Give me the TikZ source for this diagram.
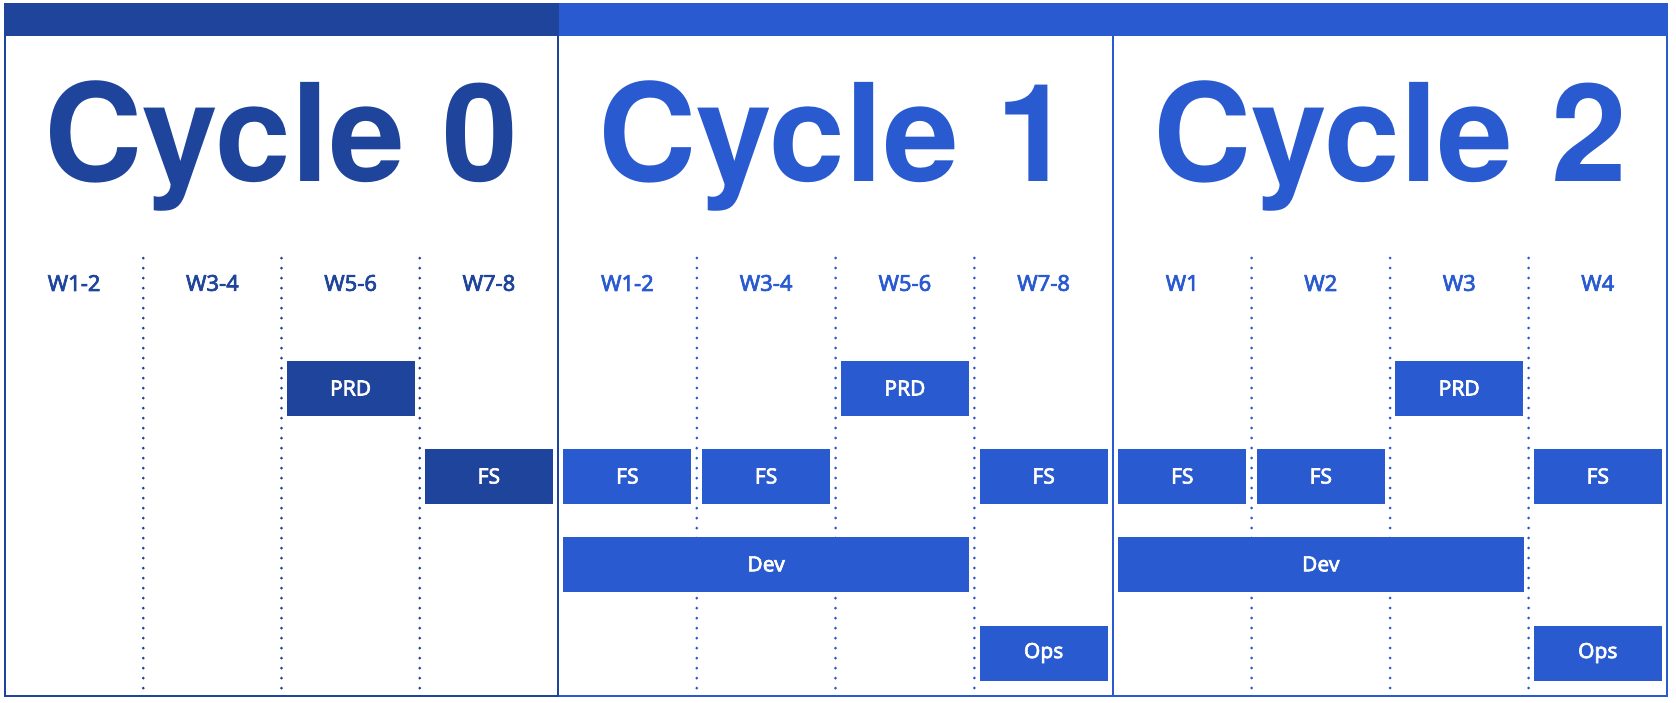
\documentclass[tikz,border=0pt]{standalone}
\usepackage{fontspec}
\setmainfont{Noto Sans}
\newfontfamily\titlefont{TeX Gyre Heros}
\newfontfamily\labelfont{Noto Sans}[FakeBold=3]
\definecolor{darkblue}{RGB}{31,68,155}
\definecolor{lightblue}{RGB}{42,90,207}

\begin{document}
\begin{tikzpicture}[x = 1pt, y = -1pt,
    title/.style = {anchor = base, inner sep = 0pt, font = \titlefont\fontsize{136}{136}\selectfont\bfseries},
    week/.style = {inner sep = 0pt, font = \labelfont\fontsize{22}{22}\selectfont},
    bar/.style = {inner sep = 0pt, minimum height = 55pt, minimum width = 128pt, text = white,
                  font = \labelfont\fontsize{21}{21}\selectfont},
    dots/.style = {line width = 3pt, line cap = round, dash pattern = on 0pt off 10pt}]
  \useasboundingbox (0, 0) rectangle (1676, 702);
  % cycle 2
  \fill [lightblue] (1113, 4) rectangle (1667, 36);
  \draw [lightblue, line width = 2pt] (1113, 4) rectangle (1667, 696);
  \draw [dots, lightblue] (1251.5, 258) -- (1251.5, 696);
  \draw [dots, lightblue] (1390, 258) -- (1390, 696);
  \draw [dots, lightblue] (1528.5, 258) -- (1528.5, 696);
  \node [title, text = lightblue] (title2) at (1390, 181) {Cycle 2};
  \node [week, text = lightblue] (c2w1) at (1182.25, 283) {W1};
  \node [week, text = lightblue] (c2w2) at (1320.75, 283) {W2};
  \node [week, text = lightblue] (c2w3) at (1459.25, 283) {W3};
  \node [week, text = lightblue] (c2w4) at (1597.75, 283) {W4};
  \node [bar, fill = lightblue] (c2prd) at (1459.25, 388) {PRD};
  \node [bar, fill = lightblue] (c2fs1) at (1182.25, 476) {FS};
  \node [bar, fill = lightblue] (c2fs2) at (1320.75, 476) {FS};
  \node [bar, fill = lightblue] (c2fs4) at (1597.75, 476) {FS};
  \node [bar, fill = lightblue, minimum width = 405.5pt] (c2dev) at (1320.75, 564) {Dev};
  \node [bar, fill = lightblue] (c2ops) at (1597.75, 653) {Ops};
  % cycle 1
  \fill [lightblue] (558, 4) rectangle (1113, 36);
  \draw [lightblue, line width = 2pt] (558, 4) rectangle (1113, 696);
  \draw [dots, lightblue] (696.75, 258) -- (696.75, 696);
  \draw [dots, lightblue] (835.5, 258) -- (835.5, 696);
  \draw [dots, lightblue] (974.25, 258) -- (974.25, 696);
  \node [title, text = lightblue] (title1) at (835.5, 181) {Cycle 1};
  \node [week, text = lightblue] (c1w1) at (627.4, 283) {W1-2};
  \node [week, text = lightblue] (c1w2) at (766.1, 283) {W3-4};
  \node [week, text = lightblue] (c1w3) at (904.9, 283) {W5-6};
  \node [week, text = lightblue] (c1w4) at (1043.6, 283) {W7-8};
  \node [bar, fill = lightblue] (c1prd) at (904.9, 388) {PRD};
  \node [bar, fill = lightblue] (c1fs1) at (627.4, 476) {FS};
  \node [bar, fill = lightblue] (c1fs2) at (766.1, 476) {FS};
  \node [bar, fill = lightblue] (c1fs4) at (1043.6, 476) {FS};
  \node [bar, fill = lightblue, minimum width = 406pt] (c1dev) at (766.1, 564) {Dev};
  \node [bar, fill = lightblue] (c1ops) at (1043.6, 653) {Ops};
  % cycle 0
  \fill [darkblue] (5, 4) rectangle (558, 36);
  \draw [darkblue, line width = 2pt] (5, 4) rectangle (558, 696);
  \draw [dots, darkblue] (143.25, 258) -- (143.25, 696);
  \draw [dots, darkblue] (281.5, 258) -- (281.5, 696);
  \draw [dots, darkblue] (419.75, 258) -- (419.75, 696);
  \node [title, text = darkblue] (title0) at (281.5, 181) {Cycle 0};
  \node [week, text = darkblue] (c0w1) at (74.1, 283) {W1-2};
  \node [week, text = darkblue] (c0w2) at (212.4, 283) {W3-4};
  \node [week, text = darkblue] (c0w3) at (350.6, 283) {W5-6};
  \node [week, text = darkblue] (c0w4) at (488.9, 283) {W7-8};
  \node [bar, fill = darkblue] (c0prd) at (350.6, 388) {PRD};
  \node [bar, fill = darkblue] (c0fs4) at (488.9, 476) {FS};
\end{tikzpicture}
\end{document}
